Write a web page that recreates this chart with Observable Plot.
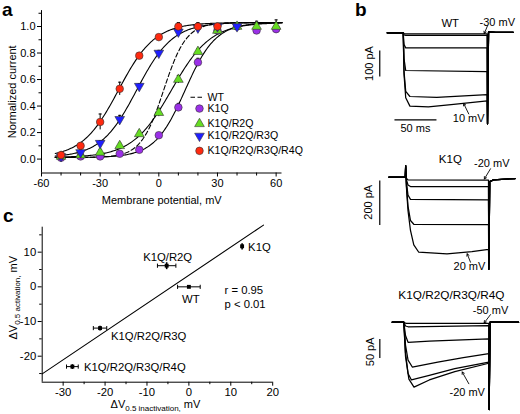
<!DOCTYPE html>
<html><head><meta charset="utf-8">
<script src="https://cdn.jsdelivr.net/npm/d3@7"></script>
<script src="https://cdn.jsdelivr.net/npm/@observablehq/plot@0.6"></script>
<style>
html,body{margin:0;padding:0;background:#fff;}
#fig{position:relative;width:520px;height:414px;overflow:hidden;background:#fff;}
#fig > div{position:absolute;line-height:0;}
#fig svg{overflow:visible;}
</style></head>
<body><div id="fig"></div>
<script>
// ================= DATA =================
// Panel a: normalized current vs membrane potential (mV)
const voltages = [-50,-40,-30,-20,-10,0,10,20,30,40,50,60];
const k1qAct = [0.01,0.02,0.02,0.04,0.07,0.18,0.39,0.73,0.97,1.00,0.97,0.98];
const k1qErr = [0.01,0.01,0.01,0.01,0.01,0.02,0.03,0.03,0.02,0.02,0.03,0.03];
const r2qAct = [0.02,0.03,0.05,0.10,0.19,0.35,0.60,0.81,0.97,1.00,1.00,1.00];
const r2qErr = [0.01,0.01,0.02,0.02,0.02,0.03,0.03,0.02,0.02,0.02,0.04,0.05];
const r3qAct = [0.02,0.05,0.12,0.30,0.55,0.80,0.96,0.99,1.00,1.00,null,null];
const r3qErr = [0.01,0.02,0.02,0.03,0.02,0.02,0.02,0.02,0.02,0.02,null,null];
const r4qAct = [0.03,0.10,0.28,0.53,0.78,0.92,1.00,1.00,1.00,null,null,null];
const r4qErr = [0.01,0.02,0.06,0.05,0.02,0.01,0.03,0.03,0.02,null,null,null];
// Boltzmann fits (V1/2, slope k)
const fitNames = ["WT","K1Q","K1Q/R2Q","K1Q/R2Q/R3Q","K1Q/R2Q/R3Q/R4Q"];
const fitVhalf = [2.5, 13.5, 6.5, -11.3, -20.6];
const fitSlope = [5.8, 7.8, 10.0, 9.2, 9.3];
const legendNames = ["WT","K1Q","K1Q/R2Q","K1Q/R2Q/R3Q","K1Q/R2Q/R3Q/R4Q"];
const yTicksA = [0,0.2,0.4,0.6,0.8,1.0];
const yMinorA = [0.1,0.3,0.5,0.7,0.9,1.1];
const xTicksA = [-60,-30,0,30,60];
const xMinorA = [-50,-40,-20,-10,10,20,40,50];

// Panel c: dV0.5 activation vs dV0.5 inactivation (mV)
const mutants = ["K1Q","K1Q/R2Q","WT","K1Q/R2Q/R3Q","K1Q/R2Q/R3Q/R4Q"];
const dInact = [12.7, -5.3, 0, -21.2, -27.8];
const dInactErr = [0.3, 2.2, 2.7, 1.6, 1.4];
const dAct = [11.7, 6.1, 0, -11.9, -23.0];
const dActErr = [0.9, 1.0, 0.3, 0.7, 0.7];
const statR = "r = 0.95";
const statP = "p < 0.01";
const xTicksC = [-30,-20,-10,0,10,20];
const xMinorC = [-25,-15,-5,5,15];
const yTicksC = [-20,-10,0,10];
const yMinorC = [-25,-15,-5,5,15];

// Panel b: current traces, [time ms, current pA] during a 100 ms step
const wtPre = [[-19,0],[0,0]];
const wtSweeps = [
  [[1,-3],[3,-4],[100,-4]],
  [[1,-8],[3,-10],[100,-10]],
  [[1,-45],[3,-58],[100,-58]],
  [[1,-100],[3,-145],[100,-149]],
  [[1,-150],[3,-225],[8,-245],[40,-248],[100,-238]],
  [[1,-160],[3,-250],[8,-282],[30,-285],[60,-275],[100,-262]]
];
const wtAfter = [[100.4,-350],[101.6,4],[110,2],[131,2]];
const k1qPre = [[-20,0],[-0.3,0],[0.2,52],[0.8,0]];
const k1qSweeps = [
  [[1,-5],[3,-12],[100,-13]],
  [[1,-10],[3,-35],[6,-42],[100,-42]],
  [[1,-20],[3,-80],[6,-100],[100,-102]],
  [[1,-30],[3,-130],[6,-195],[10,-212],[100,-214]],
  [[1,-40],[3,-150],[6,-240],[10,-305],[16,-338],[50,-345],[80,-335],[100,-325]]
];
const k1qAfter = [[100.4,-415],[101.5,-20],[106,-12],[132,-6]];
const r4qPre = [[-13.6,0],[0,0]];
const r4qSweeps = [
  [[1,-2],[3,-3],[100,-3]],
  [[2,-10],[5,-12],[100,-9]],
  [[2,-35],[5,-53],[30,-50],[100,-44]],
  [[2,-60],[5,-100],[10,-118],[40,-105],[70,-93],[100,-83]],
  [[2,-80],[5,-135],[9,-152],[30,-140],[60,-122],[100,-105]],
  [[2,-90],[6,-150],[12,-171],[30,-152],[60,-130],[100,-108]]
];
const r4qAfter = [[100.4,-230],[101.5,0],[135,0]];

// ================= RENDER =================
const FONT = "'Liberation Sans', Arimo, Arial, Helvetica, sans-serif";
const fig = document.getElementById("fig");
function place(node, left, top) {
  const d = document.createElement("div");
  d.style.left = left + "px"; d.style.top = top + "px";
  d.appendChild(node); fig.appendChild(d); return node;
}
function subscriptify(svg) {
  d3.select(svg).selectAll("text").each(function () {
    const t = this.textContent;
    if (t.includes("|")) {
      const [a, b, c] = t.split("|");
      const s = d3.select(this); s.text(null);
      s.append("tspan").text(a);
      s.append("tspan").attr("dy", 3).attr("font-size", 8).text(b);
      s.append("tspan").attr("dy", -3).text(c);
    }
  });
}
const baseStyle = {fontFamily: FONT, fontSize: "11px", background: "transparent", overflow: "visible", color: "black"};

// ---- Panel a ----
const triDown = {
  draw(ctx, size) {
    const y = -Math.sqrt(size / (Math.sqrt(3) * 3));
    ctx.moveTo(0, -y * 2);
    ctx.lineTo(-Math.sqrt(3) * y, y);
    ctx.lineTo(Math.sqrt(3) * y, y);
    ctx.closePath();
  }
};
const rowsA = (vals, errs) => voltages.map((v, i) => ({v, y: vals[i], e: errs[i]})).filter(d => d.y != null);
const seriesA = [
  {name: "K1Q", rows: rowsA(k1qAct, k1qErr), fill: "#9b30e8", symbol: "circle", r: 3.8},
  {name: "K1Q/R2Q", rows: rowsA(r2qAct, r2qErr), fill: "#66dd22", symbol: "triangle", r: 3.6},
  {name: "K1Q/R2Q/R3Q", rows: rowsA(r3qAct, r3qErr), fill: "#1f1fff", symbol: triDown, r: 3.6},
  {name: "K1Q/R2Q/R3Q/R4Q", rows: rowsA(r4qAct, r4qErr), fill: "#ff2a10", symbol: "circle", r: 3.8}
];
const fits = fitNames.map((n, i) => ({
  name: n,
  pts: d3.range(-53, 63.01, 0.5).map(v => ({v, y: 0.012 + 1.018 / (1 + Math.exp((fitVhalf[i] - v) / fitSlope[i]))}))
}));
const legendX = 20.8, legendTextX = 24.9;
const legendYs = [0.466, 0.381, 0.266, 0.174, 0.062];
const legendRows = legendNames.map((n, i) => ({name: n, y: legendYs[i]}));

const plotA = Plot.plot({
  width: 310, height: 205,
  marginLeft: 41, marginRight: 28.5, marginTop: 10.1, marginBottom: 32.5,
  x: {domain: [-60, 63]},
  y: {domain: [-0.105, 1.12]},
  style: baseStyle,
  marks: [
    Plot.ruleX([-60], {stroke: "black", strokeWidth: 1}),
    Plot.ruleY([-0.105], {stroke: "black", strokeWidth: 1}),
    Plot.axisY({ticks: yTicksA, tickFormat: d3.format(".1f"), tickSize: 4, tickPadding: 2, label: null, fontSize: 11}),
    Plot.axisY({ticks: yMinorA, tickSize: 2.5, fill: "none", label: null}),
    Plot.axisX({ticks: xTicksA, tickFormat: d => `${d}`, tickSize: 4, tickPadding: 2, label: null, fontSize: 11}),
    Plot.axisX({ticks: xMinorA, tickSize: 3, fill: "none", label: null}),
    ...fits.map(f => Plot.line(f.pts, {x: "v", y: "y", stroke: "black", strokeWidth: 1.1,
      strokeDasharray: f.name === "WT" ? "4.5,2.5" : undefined})),
    ...seriesA.map(s => Plot.ruleX(s.rows, {x: "v", y1: d => d.y - d.e, y2: d => d.y + d.e, stroke: "black", strokeWidth: 1})),
    ...seriesA.map(s => Plot.link(s.rows, {x1: d => d.v - 0.8, x2: d => d.v + 0.8, y1: d => d.y + d.e, y2: d => d.y + d.e, stroke: "black", strokeWidth: 1})),
    ...seriesA.map(s => Plot.dot(s.rows, {x: "v", y: "y", symbol: s.symbol, r: s.r, fill: s.fill, stroke: "#333", strokeWidth: 0.6})),
    // legend
    Plot.link([legendRows[0]], {x1: 16.2, x2: 22.9, y1: "y", y2: "y", stroke: "black", strokeWidth: 1.1, strokeDasharray: "4.5,2.5"}),
    ...seriesA.map((s, i) => Plot.dot([legendRows[i + 1]], {x: legendX, y: "y", symbol: s.symbol, r: s.r, fill: s.fill, stroke: "#333", strokeWidth: 0.6})),
    Plot.text(legendRows, {x: legendTextX, y: "y", text: "name", textAnchor: "start", fontSize: 10.6}),
    Plot.text(["Normalized current"], {frameAnchor: "left", textAnchor: "middle", lineAnchor: "middle", rotate: -90, dx: -29.5, fontSize: 11}),
    Plot.text(["Membrane potential, mV"], {frameAnchor: "bottom", textAnchor: "middle", lineAnchor: "middle", dy: 27.5, fontSize: 11})
  ]
});
place(plotA, 0, 0);

// ---- Panel c ----
const rowsC = mutants.map((n, i) => ({name: n, x: dInact[i], y: dAct[i], ex: dInactErr[i], ey: dActErr[i]}));
const mx = d3.mean(dInact), my = d3.mean(dAct);
const slope = d3.sum(dInact.map((x, i) => (x - mx) * (dAct[i] - my))) / d3.sum(dInact.map(x => (x - mx) ** 2));
const icpt = my - slope * mx;
const fitLineC = [-35, 17.8].map(x => ({x, y: icpt + slope * x}));
const labelOff = {
  "K1Q": {dx: 6, dy: 1.5, anchor: "start"},
  "K1Q/R2Q": {dx: 1, dy: -8.5, anchor: "middle"},
  "WT": {dx: 2, dy: 12.3, anchor: "middle"},
  "K1Q/R2Q/R3Q": {dx: 11, dy: 8, anchor: "start"},
  "K1Q/R2Q/R3Q/R4Q": {dx: 11.6, dy: 1, anchor: "start"}
};
const plotC = Plot.plot({
  width: 310, height: 214,
  marginLeft: 41.7, marginRight: 37.8, marginTop: 26.7, marginBottom: 32.3,
  x: {domain: [-35, 20]},
  y: {domain: [-27.5, 17.2]},
  style: baseStyle,
  marks: [
    Plot.ruleX([-35], {stroke: "black", strokeWidth: 1}),
    Plot.ruleY([-27.5], {stroke: "black", strokeWidth: 1}),
    Plot.axisY({ticks: yTicksC, tickFormat: d => `${d}`, tickSize: 4, tickPadding: 2, label: null, fontSize: 11.3}),
    Plot.axisY({ticks: yMinorC, tickSize: 2.5, fill: "none", label: null}),
    Plot.axisX({ticks: xTicksC, tickFormat: d => `${d}`, tickSize: 4, tickPadding: 2, label: null, fontSize: 11.3}),
    Plot.axisX({ticks: xMinorC, tickSize: 2.5, fill: "none", label: null}),
    Plot.line(fitLineC, {x: "x", y: "y", stroke: "black", strokeWidth: 1.1}),
    Plot.link(rowsC, {x1: d => d.x - d.ex, x2: d => d.x + d.ex, y1: "y", y2: "y", stroke: "black", strokeWidth: 1}),
    Plot.link(rowsC, {x1: "x", x2: "x", y1: d => d.y - d.ey, y2: d => d.y + d.ey, stroke: "black", strokeWidth: 1.6}),
    Plot.link(rowsC.filter(d => d.ex > 0.5), {x1: d => d.x - d.ex, x2: d => d.x - d.ex, y1: d => d.y - 0.6, y2: d => d.y + 0.6, stroke: "black", strokeWidth: 1}),
    Plot.link(rowsC.filter(d => d.ex > 0.5), {x1: d => d.x + d.ex, x2: d => d.x + d.ex, y1: d => d.y - 0.6, y2: d => d.y + 0.6, stroke: "black", strokeWidth: 1}),
    Plot.dot(rowsC, {x: "x", y: "y", symbol: "square", r: 2.2, fill: "black"}),
    ...rowsC.map(d => Plot.text([d], {x: "x", y: "y", text: "name", dx: labelOff[d.name].dx, dy: labelOff[d.name].dy,
      textAnchor: labelOff[d.name].anchor, fontSize: 11.3})),
    Plot.text([statR, statP], {x: 8.5, y: (d, i) => [-1.15, -5.0][i], textAnchor: "start", fontSize: 11.3}),
    Plot.text(["ΔV|0.5 activation,| mV"], {frameAnchor: "left", textAnchor: "middle", lineAnchor: "middle", rotate: -90, dx: -28.5, dy: -7, fontSize: 11}),
    Plot.text(["ΔV|0.5 inactivation,| mV"], {frameAnchor: "bottom", textAnchor: "middle", lineAnchor: "middle", dx: -2, dy: 22, fontSize: 11})
  ]
});
subscriptify(plotC);
place(plotC, 0, 200);

// ---- Panel b ----
function tracePanel(cfg) {
  const {sweeps, pre, after, x0, pxms, y0, pxpa, left, right, top, bottom} = cfg;
  const rows = [];
  sweeps.forEach((sw, k) => [...pre, ...sw, ...after].forEach(([t, I]) => rows.push({t, I, k})));
  const plot = Plot.plot({
    width: right - left, height: bottom - top, margin: 0,
    x: {domain: [(left - x0) / pxms, (right - x0) / pxms], axis: null},
    y: {domain: [(y0 - bottom) / pxpa, (y0 - top) / pxpa], axis: null},
    style: baseStyle,
    marks: [
      Plot.line(rows, {x: "t", y: "I", z: "k", stroke: "black", strokeWidth: 1.25, strokeLinejoin: "round"}),
      ...cfg.marks
    ]
  });
  place(plot, left, top);
}
const arrowOpts = {x1: "x1", y1: "y1", x2: "x2", y2: "y2", stroke: "black", strokeWidth: 0.9, headLength: 4};
const txt = (rows, extra = {}) => Plot.text(rows, {x: "x", y: "y", text: "s", fontSize: 11, ...extra});

tracePanel({
  sweeps: wtSweeps, pre: wtPre, after: wtAfter,
  x0: 402.7, pxms: 0.84, y0: 32.3, pxpa: 0.26, left: 345, right: 520, top: 0, bottom: 135,
  marks: [
    txt([{x: 56, y: 36, s: "WT"}], {fontSize: 11.3}),
    txt([{x: 112, y: 40, s: "-30 mV"}, {x: 78, y: -331, s: "10 mV"}]),
    Plot.arrow([{x1: 100.5, y1: 28, x2: 96.5, y2: -3}, {x1: 78, y1: -312, x2: 72, y2: -272}], arrowOpts),
    Plot.link([{t: -27.9, a: -68, b: -168}], {x1: "t", x2: "t", y1: "a", y2: "b", stroke: "black", strokeWidth: 1.2}),
    txt([{x: -40, y: -118, s: "100 pA"}], {rotate: -90}),
    Plot.link([{t1: -10.4, t2: 39.6, a: -335}], {x1: "t1", x2: "t2", y1: "a", y2: "a", stroke: "black", strokeWidth: 1.2}),
    txt([{x: 14.6, y: -369, s: "50 ms"}])
  ]
});
tracePanel({
  sweeps: k1qSweeps, pre: k1qPre, after: k1qAfter,
  x0: 405, pxms: 0.83, y0: 176.7, pxpa: 0.222, left: 345, right: 520, top: 135, bottom: 272,
  marks: [
    txt([{x: 54, y: 80, s: "K1Q"}], {fontSize: 11.5}),
    txt([{x: 104, y: 62, s: "-20 mV"}, {x: 77, y: -403, s: "20 mV"}]),
    Plot.arrow([{x1: 102.4, y1: 38, x2: 95, y2: -8}, {x1: 78.3, y1: -383, x2: 74.3, y2: -345}], arrowOpts),
    Plot.link([{t: -31, a: -15, b: -215}], {x1: "t", x2: "t", y1: "a", y2: "b", stroke: "black", strokeWidth: 1.2}),
    txt([{x: -44.2, y: -113, s: "200 pA"}], {rotate: -90})
  ]
});
tracePanel({
  sweeps: r4qSweeps, pre: r4qPre, after: r4qAfter,
  x0: 403.3, pxms: 0.85, y0: 321.7, pxpa: 0.38, left: 345, right: 520, top: 272, bottom: 414,
  marks: [
    txt([{x: 56, y: 70, s: "K1Q/R2Q/R3Q/R4Q"}], {fontSize: 11.8}),
    txt([{x: 102, y: 31, s: "-50 mV"}, {x: 74.6, y: -184, s: "-20 mV"}]),
    Plot.arrow([{x1: 102, y1: 20, x2: 94.5, y2: -2}, {x1: 76.5, y1: -162, x2: 68.7, y2: -131}], arrowOpts),
    Plot.link([{t: -28.2, a: -44, b: -94}], {x1: "t", x2: "t", y1: "a", y2: "b", stroke: "black", strokeWidth: 1.2}),
    txt([{x: -39.2, y: -78, s: "50 pA"}], {rotate: -90})
  ]
});

// ---- panel letters ----
const letters = d3.create("svg").attr("width", 520).attr("height", 414)
  .style("position", "absolute").style("left", 0).style("top", 0).style("pointer-events", "none");
letters.selectAll("text").data([["a", 2, 16], ["b", 355, 16], ["c", 3, 222]]).join("text")
  .attr("x", d => d[1]).attr("y", d => d[2]).text(d => d[0])
  .attr("font-family", FONT).attr("font-weight", "bold").attr("font-size", 19);
fig.appendChild(letters.node());
</script>
</body></html>
